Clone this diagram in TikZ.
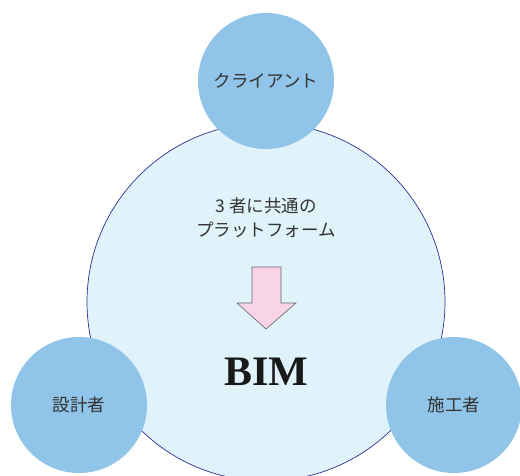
\documentclass[tikz,border=0pt]{standalone}
\usepackage{fontspec}
\setmainfont{Liberation Serif}
\newfontfamily\jp{Noto Sans CJK JP}
\definecolor{bigfill}{HTML}{E0F2FA}
\definecolor{bigline}{HTML}{2E2F8F}
\definecolor{smallfill}{HTML}{90C4E8}
\definecolor{arrowfill}{HTML}{F8D4E6}
\definecolor{txt}{HTML}{333333}
\begin{document}
\begin{tikzpicture}[x=1pt,y=-1pt,
  party/.style={circle,fill=smallfill,minimum size=136pt,inner sep=0pt,text=txt,font=\jp\fontsize{17.5}{20}\selectfont},
  lbl/.style={text=txt,align=center,font=\jp\fontsize{17.5}{24}\selectfont}]
\useasboundingbox (0,0) rectangle (520,475);
\clip (0,0) rectangle (520,475);
\node[circle,fill=bigfill,draw=bigline,line width=0.7pt,minimum size=358pt,inner sep=0pt] (big) at (266,302) {};
\node[party] (client) at (266,81) {クライアント};
\node[party] (designer) at (79,405) {設計者};
\node[party] (builder) at (454,405) {施工者};
\node[lbl] (plat) at (266,218) {3 者に共通の\\プラットフォーム};
\draw[fill=arrowfill,draw=gray!80!black,line width=0.6pt]
  (252,267) -- (281,267) -- (281,303) -- (296,303) -- (266,329) -- (237,303) -- (252,303) -- cycle;
\node[font=\bfseries\fontsize{42}{44}\selectfont,text=black!90] (bim) at (266,372) {BIM};
\end{tikzpicture}
\end{document}
